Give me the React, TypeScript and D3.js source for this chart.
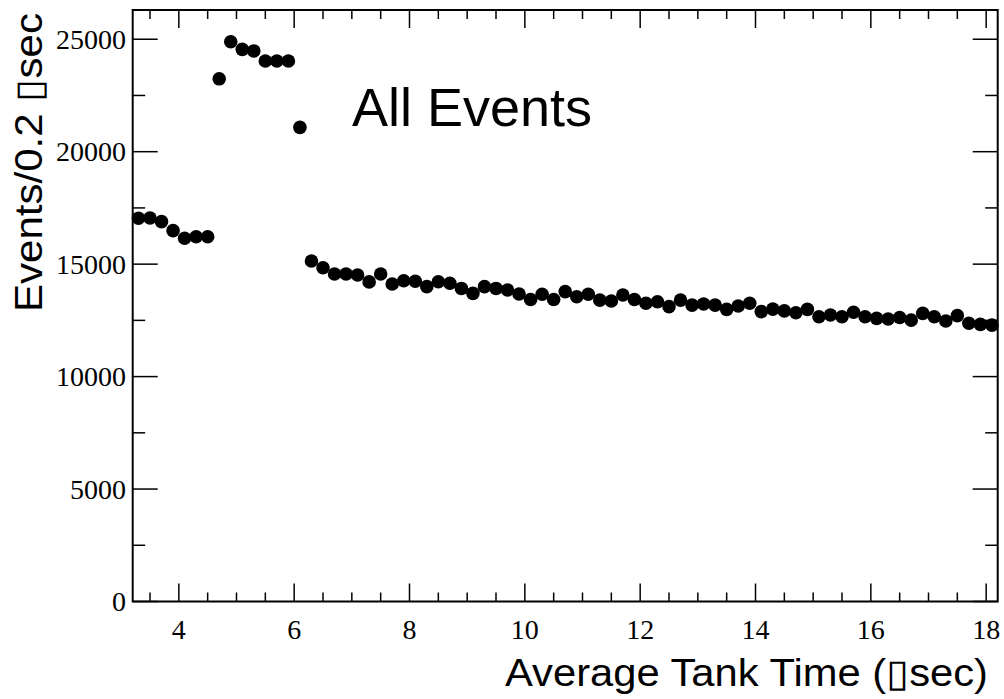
import React from "react";
import * as d3 from "d3";

// Bin centres (μs), 0.2 μs wide
const binCenters: number[] = d3.range(75).map((i) => +(3.3 + i * 0.2).toFixed(1));

// Events per bin
const counts: number[] = [
  17040, 17050, 16890, 16490, 16150, 16220, 16220, 23240, 24890, 24550,
  24480, 24030, 24030, 24030, 21080, 15140, 14840, 14560, 14560, 14520,
  14210, 14560, 14120, 14260, 14240, 14000, 14220, 14150, 13920, 13700,
  14000, 13920, 13850, 13670, 13430, 13660, 13430, 13780, 13550, 13660,
  13400, 13360, 13630, 13430, 13260, 13330, 13110, 13400, 13180, 13230,
  13180, 12990, 13140, 13260, 12890, 13000, 12920, 12840, 12990, 12660,
  12740, 12660, 12860, 12660, 12590, 12560, 12630, 12510, 12810, 12660,
  12470, 12710, 12370, 12320, 12290,
];

const xMajorTicks: number[] = [4, 6, 8, 10, 12, 14, 16, 18];
const xMinorTicks: number[] = d3.range(3.5, 18.01, 0.5);
const yMajorTicks: number[] = [0, 5000, 10000, 15000, 20000, 25000];
const yMinorTicks: number[] = d3.range(0, 26001, 2500);

const xTitle = "Average Tank Time (\u25AFsec)";
const yTitle = "Events/0.2 \u25AFsec";
const label = "All Events";

const W = 1004;
const H = 699;
const frame = { left: 132.7, right: 997.7, top: 10, bottom: 601.5 };

export default function App() {
  const x = d3.scaleLinear().domain([3.2, 18.2]).range([frame.left, frame.right]);
  const y = d3.scaleLinear().domain([0, 26300]).range([frame.bottom, frame.top]);

  const xMajLen = 18, xMinLen = 9, yMajLen = 25, yMinLen = 12.5;
  const serif = "'Liberation Serif', 'Times New Roman', serif";
  const sans = "'Liberation Sans', Arial, Helvetica, sans-serif";

  return (
    <svg
      width={W}
      height={H}
      viewBox={`0 0 ${W} ${H}`}
      style={{ position: "absolute", left: 0, top: 0, background: "#fff" }}
    >
      <rect x={0} y={0} width={W} height={H} fill="#fff" />

      {/* tick marks on all four sides */}
      <g stroke="#000" strokeWidth={1.5}>
        {xMinorTicks.map((t) => {
          const major = xMajorTicks.some((m) => Math.abs(m - t) < 1e-6);
          const len = major ? xMajLen : xMinLen;
          return (
            <g key={`xt${t}`}>
              <line x1={x(t)} x2={x(t)} y1={frame.bottom} y2={frame.bottom - len} />
              <line x1={x(t)} x2={x(t)} y1={frame.top} y2={frame.top + len} />
            </g>
          );
        })}
        {yMinorTicks.map((t) => {
          const major = yMajorTicks.includes(t);
          const len = major ? yMajLen : yMinLen;
          return (
            <g key={`yt${t}`}>
              <line x1={frame.left} x2={frame.left + len} y1={y(t)} y2={y(t)} />
              <line x1={frame.right} x2={frame.right - len} y1={y(t)} y2={y(t)} />
            </g>
          );
        })}
      </g>

      {/* frame */}
      <rect
        x={frame.left}
        y={frame.top}
        width={frame.right - frame.left}
        height={frame.bottom - frame.top}
        fill="none"
        stroke="#000"
        strokeWidth={2}
      />

      {/* tick labels */}
      <g fontFamily={serif} fontSize={28} fill="#000">
        {xMajorTicks.map((t) => (
          <text key={`xl${t}`} x={x(t)} y={639} textAnchor="middle">
            {t}
          </text>
        ))}
        {yMajorTicks.map((t) => (
          <text key={`yl${t}`} x={126} y={y(t) + 9.5} textAnchor="end">
            {t}
          </text>
        ))}
      </g>

      {/* data points */}
      <g fill="#000">
        {binCenters.map((c, i) => (
          <circle key={`p${i}`} cx={x(c)} cy={y(counts[i])} r={6.8} />
        ))}
      </g>

      {/* annotation and axis titles */}
      <text x={352} y={126} fontFamily={sans} fontSize={54} fill="#000">
        {label}
      </text>
      <text
        x={505}
        y={686}
        fontFamily={sans}
        fontSize={38}
        fill="#000"
        textLength={483}
        lengthAdjust="spacingAndGlyphs"
      >
        {xTitle}
      </text>
      <text
        transform="translate(42, 312) rotate(-90)"
        fontFamily={sans}
        fontSize={38}
        fill="#000"
        textLength={299}
        lengthAdjust="spacingAndGlyphs"
      >
        {yTitle}
      </text>
    </svg>
  );
}
